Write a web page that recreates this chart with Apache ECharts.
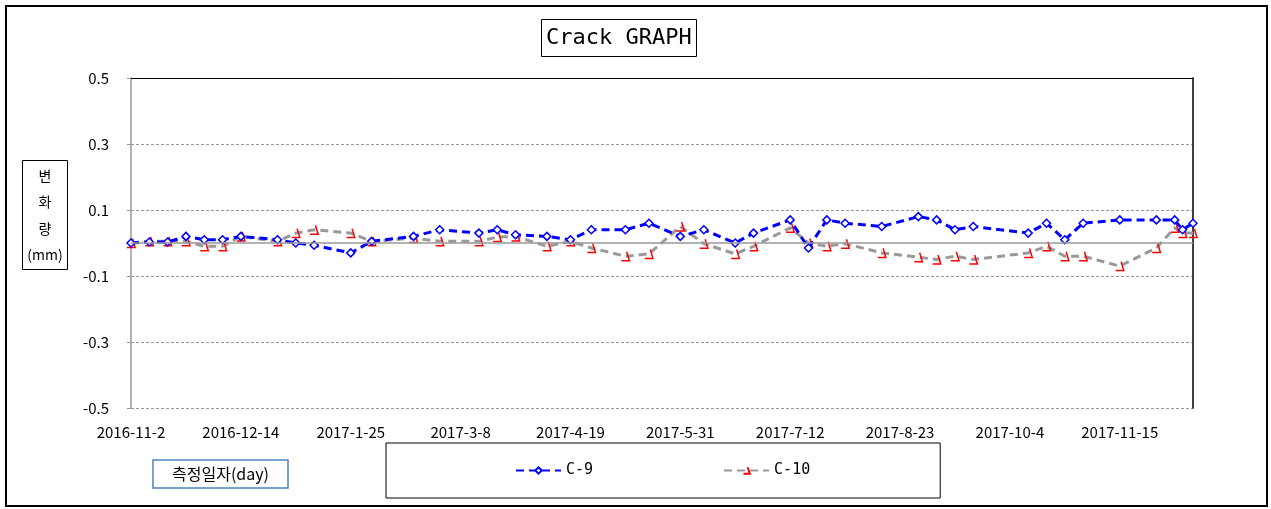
<!DOCTYPE html>
<html>
<head>
<meta charset="utf-8">
<script src="https://cdn.jsdelivr.net/npm/echarts@6/dist/echarts.min.js"></script>
<style>
  html, body { margin: 0; padding: 0; background: #fff; }
  #frame { position: absolute; left: 5px; top: 5px; width: 1259px; height: 498px; border: 2px solid #000; }
  #main { position: absolute; left: 0; top: 0; width: 1271px; height: 509px; }
</style>
</head>
<body>
<div id="frame"></div>
<div id="main"></div>
<script>
// 측정일자
var dates = [
  '2016-11-02', '2016-11-09', '2016-11-16', '2016-11-23', '2016-11-30', '2016-12-07', '2016-12-14',
  '2016-12-28', '2017-01-04', '2017-01-11', '2017-01-25', '2017-02-02', '2017-02-18', '2017-02-28',
  '2017-03-15', '2017-03-22', '2017-03-29', '2017-04-10', '2017-04-19', '2017-04-27', '2017-05-10',
  '2017-05-19', '2017-05-31', '2017-06-09', '2017-06-21', '2017-06-28', '2017-07-12', '2017-07-19',
  '2017-07-26', '2017-08-02', '2017-08-16', '2017-08-30', '2017-09-06', '2017-09-13', '2017-09-20',
  '2017-10-11', '2017-10-18', '2017-10-25', '2017-11-01', '2017-11-15', '2017-11-29', '2017-12-06',
  '2017-12-09', '2017-12-13'
];

// 변화량 (mm)
var c9 = [
  0, 0.003, 0.003, 0.02, 0.01, 0.01, 0.02,
  0.01, 0, -0.007, -0.03, 0.005, 0.02, 0.04,
  0.03, 0.04, 0.025, 0.02, 0.01, 0.04, 0.04,
  0.06, 0.02, 0.04, 0, 0.03, 0.07, -0.015,
  0.07, 0.06, 0.05, 0.08, 0.07, 0.04, 0.05,
  0.03, 0.06, 0.01, 0.06, 0.07, 0.07, 0.07,
  0.04, 0.06
];
var c10 = [
  0, 0.005, 0.005, 0.005, -0.01, -0.01, 0.02,
  0.005, 0.03, 0.04, 0.03, 0.005, 0.015, 0.005,
  0.005, 0.018, 0.02, -0.01, 0.005, -0.015, -0.04,
  -0.033, 0.05, -0.002, -0.033, -0.01, 0.046, 0,
  -0.01, -0.002, -0.03, -0.043, -0.05, -0.04, -0.05,
  -0.03, -0.01, -0.04, -0.04, -0.07, -0.015, 0.046,
  0.03, 0.03
];

var startDate = '2016-11-02';
var endDate = '2017-12-13';
var tickDays = 42;

function dayOf(s) {
  var p = s.split('-');
  return Date.UTC(+p[0], +p[1] - 1, +p[2]) / 86400000;
}
var day0 = dayOf(startDate);
function pairs(vals) {
  return dates.map(function (d, i) {
    return [dayOf(d) - day0, vals[i]];
  });
}
function dayLabel(v) {
  var d = new Date((day0 + v) * 86400000);
  return d.getUTCFullYear() + '-' + (d.getUTCMonth() + 1) + '-' + d.getUTCDate();
}

var myChart = echarts.init(document.getElementById('main'));
var font = '"Noto Sans CJK KR", "Noto Sans", sans-serif';

var option = {
  animation: false,
  title: [{
    text: 'Crack GRAPH',
    left: 541, top: 19,
    padding: [8, 5, 8, 5],
    borderColor: '#000', borderWidth: 1,
    textStyle: { fontFamily: '"DejaVu Sans Mono", monospace', fontSize: 22, fontWeight: 'normal', color: '#000' }
  }, {
    text: '{c|변}\n{c|화}\n{c|량}\n{c|(mm)}',
    left: 22, top: 154,
    padding: [8, 3, 8, 3],
    borderColor: '#000', borderWidth: 1,
    textStyle: {
      fontFamily: font, fontSize: 14, fontWeight: 'normal', color: '#000',
      rich: { c: { width: 40, align: 'center', lineHeight: 26.5, fontSize: 14, fontFamily: font, color: '#000' } }
    }
  }, {
    text: '측정일자(day)',
    left: 153, top: 460,
    padding: [6, 19, 6, 19],
    borderColor: '#4F81BD', borderWidth: 1.5,
    textStyle: { fontFamily: font, fontSize: 16, fontWeight: 'normal', color: '#000' }
  }],
  legend: {
    left: 386, top: 443,
    padding: [20, 130, 20, 129],
    borderColor: '#000', borderWidth: 1,
    itemGap: 130,
    itemWidth: 45, itemHeight: 8,
    textStyle: { fontFamily: '"DejaVu Sans Mono", monospace', fontSize: 15, color: '#000' },
    data: ['C-9', 'C-10']
  },
  grid: { left: 131, right: 78, top: 78, bottom: 101 },
  xAxis: [{
    type: 'value',
    min: 0, max: dayOf(endDate) - day0, interval: tickDays,
    axisLine: { show: false, onZero: false },
    axisTick: { show: false },
    splitLine: { show: false },
    axisLabel: {
      showMaxLabel: false, margin: 17,
      fontFamily: font, fontSize: 15, color: '#000',
      formatter: dayLabel
    }
  }, {
    type: 'value', position: 'top',
    min: 0, max: dayOf(endDate) - day0,
    axisLine: { show: true, onZero: false, lineStyle: { color: '#000', width: 1 } },
    axisTick: { show: false }, axisLabel: { show: false }, splitLine: { show: false }
  }],
  yAxis: [{
    type: 'value',
    min: -0.5, max: 0.5, interval: 0.2,
    axisLine: { show: true, onZero: false, lineStyle: { color: '#999', width: 1.5 } },
    axisTick: { show: true, length: 4, lineStyle: { color: '#999' } },
    axisLabel: {
      margin: 22, fontFamily: font, fontSize: 15, color: '#000',
      formatter: function (v) { return (+v.toFixed(1)).toString(); }
    },
    splitLine: { show: true, lineStyle: { color: '#999', type: [3, 2], width: 1 } }
  }, {
    type: 'value', position: 'right',
    min: -0.5, max: 0.5,
    axisLine: { show: true, onZero: false, lineStyle: { color: '#000', width: 1.5 } },
    axisTick: { show: false }, axisLabel: { show: false }, splitLine: { show: false }
  }],
  series: [{
    name: 'C-10',
    type: 'line',
    data: pairs(c10),
    symbol: 'path://M6,0 L9,10 L0,10',
    symbolSize: [9, 9],
    symbolKeepAspect: true,
    lineStyle: { color: '#999', width: 3, type: [8, 5] },
    itemStyle: { color: 'rgba(0,0,0,0)', borderColor: '#FF0000', borderWidth: 1.5 },
    markLine: {
      silent: true, symbol: 'none', label: { show: false },
      lineStyle: { color: '#999', type: 'solid', width: 1.5 },
      data: [{ yAxis: 0 }]
    },
    z: 2
  }, {
    name: 'C-9',
    type: 'line',
    data: pairs(c9),
    symbol: 'diamond',
    symbolSize: 8,
    lineStyle: { color: '#0000FF', width: 3, type: [8, 5] },
    itemStyle: { color: '#fff', borderColor: '#0000FF', borderWidth: 1.5 },
    z: 3
  }]
};

myChart.setOption(option);
</script>
</body>
</html>
